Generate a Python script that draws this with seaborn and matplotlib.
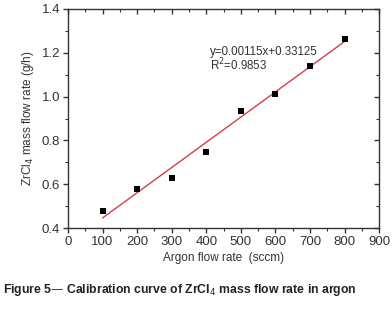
import numpy as np
import pandas as pd
import matplotlib
matplotlib.use("Agg")
import matplotlib.pyplot as plt
import seaborn as sns
from matplotlib.ticker import MultipleLocator

argon_flow = [100, 200, 300, 400, 500, 600, 700, 800]
zrcl4_rate = [0.48, 0.58, 0.63, 0.745, 0.935, 1.01, 1.14, 1.265]
slope = 0.00115
intercept = 0.33125
r2_text = "0.9853"

sns.set_theme(style="ticks")
plt.rcParams['font.family'] = ['Liberation Sans', 'DejaVu Sans']

fig = plt.figure(figsize=(3.92, 3.09), dpi=100)
rect = [0.1735, 0.262, 0.7935, 0.709]
ax = fig.add_axes(rect)

df = pd.DataFrame({"x": argon_flow, "y": zrcl4_rate})
fit_x = [min(argon_flow), max(argon_flow)]
fit = pd.DataFrame({"x": fit_x, "y": [slope * v + intercept for v in fit_x]})

sns.lineplot(data=fit, x="x", y="y", ax=ax, color="#d0404a", linewidth=1.0)
sns.scatterplot(data=df, x="x", y="y", ax=ax, marker="s", color="black",
                s=22, edgecolor="black", linewidth=0, zorder=3)

def setup(a):
    a.set_xlim(0, 900)
    a.set_ylim(0.4, 1.4)
    a.xaxis.set_major_locator(MultipleLocator(100))
    a.xaxis.set_minor_locator(MultipleLocator(50))
    a.yaxis.set_major_locator(MultipleLocator(0.2))
    a.yaxis.set_minor_locator(MultipleLocator(0.1))

setup(ax)
ax.yaxis.set_major_formatter(matplotlib.ticker.FormatStrFormatter('%.1f'))

for s in ax.spines.values():
    s.set_color("#333333")
    s.set_linewidth(1.0)

ax.tick_params(axis="both", which="major", direction="out", length=3.5,
               width=1.0, labelsize=9.5, colors="#333333", pad=2)
ax.tick_params(axis="both", which="minor", direction="out", length=2,
               width=0.8, colors="#333333")

# inward ticks on top and right
ax2 = fig.add_axes(rect, frameon=False)
setup(ax2)
ax2.patch.set_visible(False)
ax2.tick_params(axis="both", which="both", bottom=False, left=False,
                top=True, right=True, labelbottom=False, labelleft=False,
                direction="in", colors="#333333")
ax2.tick_params(axis="both", which="major", length=3.5, width=1.0)
ax2.tick_params(axis="both", which="minor", length=2, width=0.8)

ax.set_xlabel("Argon flow rate  (sccm)", fontsize=8.5, color="#333333", labelpad=3)
ax.set_ylabel("ZrCl$_4$ mass flow rate (g/h)", fontsize=8.5, color="#333333", labelpad=4)

ax.text(411, 1.204, f"y={slope:.5f}x+{intercept:.5f}", fontsize=8.3, color="#333333", va="center")
ax.text(411, 1.144, f"R$^2$={r2_text}", fontsize=8.3, color="#333333", va="center")

fig.text(0.008, 0.0615, "Figure 5\u2014 Calibration curve of ZrCl$_4$ mass flow rate in argon",
         fontsize=8.8, fontweight="bold", color="#222222", va="center")

fig.savefig("out.png", dpi=100)
